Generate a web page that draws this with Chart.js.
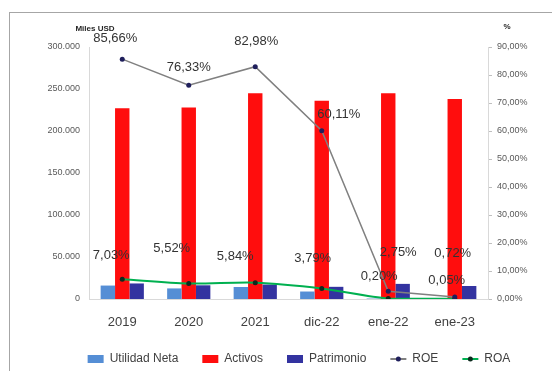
<!DOCTYPE html>
<html lang="es">
<head>
    <meta charset="UTF-8">
    <title>Indicadores</title>
    <script src="https://cdn.jsdelivr.net/npm/chart.js@4.4.1/dist/chart.umd.min.js"></script>
    <style>
        body { margin: 0; background: #fff; }
        #frame { position: absolute; left: 9px; top: 12px; width: 600px; height: 400px; border: 1px solid #a6a6a6; }
        #wrap { position: absolute; left: 0; top: 0; width: 552px; height: 371px; }
    </style>
</head>
<body>
    <div id="frame"></div>
    <div id="wrap"><canvas id="myChart" width="552" height="371"></canvas></div>

    <script type="text/javascript">
        // values in miles USD and percent
        var periodos = ["2019", "2020", "2021", "dic-22", "ene-22", "ene-23"];
        var utilidadNeta = [16000, 12600, 14300, 8900, 500, 100];
        var activos = [227000, 228000, 245000, 236000, 245000, 238000];
        var patrimonio = [18500, 16300, 17200, 14500, 18000, 15500];
        var roe = [85.66, 76.33, 82.98, 60.11, 2.75, 0.72];
        var roa = [7.03, 5.52, 5.84, 3.79, 0.20, 0.05];

        // where each percent label sits relative to its point (px)
        var roeLabelShift = [[-7, -21], [0, -18], [1, -25], [17, -16], [10, -39], [-2, -44]];
        var roaLabelShift = [[-11, -24], [-17, -35], [-20, -26], [-9, -30], [-9, -22], [-8, -18]];

        function miles(v) {
            return String(v).replace(/\B(?=(\d{3})+(?!\d))/g, ".");
        }
        function pct(v) {
            return v.toFixed(2).replace(".", ",") + "%";
        }

        var font = "'Liberation Sans', Arial, sans-serif";

        var labelPlugin = {
            id: "pctLabels",
            afterDatasetsDraw: function(chart) {
                var ctx = chart.ctx;
                ctx.save();
                ctx.font = "13px " + font;
                ctx.fillStyle = "#333333";
                ctx.textAlign = "center";
                ctx.textBaseline = "middle";
                [[3, roe, roeLabelShift], [4, roa, roaLabelShift]].forEach(function(s) {
                    var meta = chart.getDatasetMeta(s[0]);
                    meta.data.forEach(function(pt, i) {
                        ctx.fillText(pct(s[1][i]), pt.x + s[2][i][0], pt.y + s[2][i][1]);
                    });
                });
                var a = chart.chartArea;
                ctx.font = "bold 8px " + font;
                ctx.fillStyle = "#262626";
                ctx.fillText("Miles USD", a.left + 6, a.top - 18);
                ctx.fillText("%", a.right + 19, a.top - 20);
                ctx.restore();
            },
            afterDraw: function(chart) {
                // marker dot on the line legend entries
                var lg = chart.legend, ctx = chart.ctx;
                ctx.save();
                lg.legendItems.forEach(function(it, i) {
                    var ds = chart.data.datasets[it.datasetIndex];
                    if (ds.type !== "line") return;
                    var hb = lg.legendHitBoxes[i];
                    ctx.fillStyle = ds.pointBackgroundColor;
                    ctx.beginPath();
                    ctx.arc(hb.left + 8, hb.top + hb.height / 2, 2.5, 0, Math.PI * 2);
                    ctx.fill();
                });
                ctx.restore();
            }
        };

        var ctx = document.getElementById("myChart").getContext("2d");
        var chart = new Chart(ctx, {
            type: "bar",
            data: {
                labels: periodos,
                datasets: [
                    { label: "Utilidad Neta", data: utilidadNeta, backgroundColor: "#558ED5", yAxisID: "y", order: 1 },
                    { label: "Activos", data: activos, backgroundColor: "#FF0D0D", yAxisID: "y", order: 1 },
                    { label: "Patrimonio", data: patrimonio, backgroundColor: "#3333A0", yAxisID: "y", order: 1 },
                    { type: "line", label: "ROE", data: roe, borderColor: "#808080", backgroundColor: "#1F1F5C",
                      borderWidth: 1.5, pointRadius: 2.5, pointBackgroundColor: "#1F1F5C", pointBorderWidth: 0,
                      tension: 0, yAxisID: "y1", order: 0 },
                    { type: "line", label: "ROA", data: roa, borderColor: "#00B050", backgroundColor: "#0D2B1E",
                      borderWidth: 2, pointRadius: 2.5, pointBackgroundColor: "#0D2B1E", pointBorderWidth: 0,
                      tension: 0.3, yAxisID: "y1", order: 0 }
                ]
            },
            options: {
                responsive: false,
                animation: false,
                datasets: { bar: { barPercentage: 1, categoryPercentage: 0.65 } },
                layout: { padding: { left: 46, right: 0, top: 47, bottom: -4 } },
                scales: {
                    x: {
                        grid: { display: false },
                        border: { color: "#d9d9d9" },
                        ticks: { color: "#404040", font: { family: font, size: 13 }, padding: 8 },
                        afterFit: function(s) { s.height = 30; }
                    },
                    y: {
                        position: "left",
                        min: 0, max: 300000,
                        grid: { display: false, drawTicks: false },
                        border: { color: "#d9d9d9" },
                        ticks: { stepSize: 50000, color: "#595959", font: { family: font, size: 9 }, padding: 9,
                                 callback: function(v) { return miles(v); } },
                        afterFit: function(s) { s.width = 43; }
                    },
                    y1: {
                        position: "right",
                        min: 0, max: 90,
                        grid: { drawOnChartArea: false, tickLength: 4, color: "#bfbfbf" },
                        border: { color: "#d9d9d9" },
                        ticks: { stepSize: 10, color: "#595959", font: { family: font, size: 9 }, padding: 5,
                                 callback: function(v) { return pct(v); } },
                        afterFit: function(s) { s.width = 64; }
                    }
                },
                plugins: {
                    tooltip: { enabled: false },
                    legend: {
                        position: "bottom",
                        labels: {
                            usePointStyle: true,
                            pointStyleWidth: 16,
                            boxHeight: 8,
                            padding: 24,
                            color: "#404040",
                            font: { family: font, size: 12 },
                            sort: function(a, b) { return a.datasetIndex - b.datasetIndex; },
                            generateLabels: function(chart) {
                                var items = Chart.defaults.plugins.legend.labels.generateLabels(chart);
                                items.forEach(function(it) {
                                    var ds = chart.data.datasets[it.datasetIndex];
                                    if (ds.type === "line") {
                                        it.pointStyle = "line";
                                        it.strokeStyle = ds.borderColor;
                                        it.lineWidth = 2;
                                    } else {
                                        it.pointStyle = "rect";
                                        it.lineWidth = 0;
                                    }
                                });
                                return items;
                            }
                        }
                    }
                }
            },
            plugins: [labelPlugin]
        });
    </script>
</body>
</html>
